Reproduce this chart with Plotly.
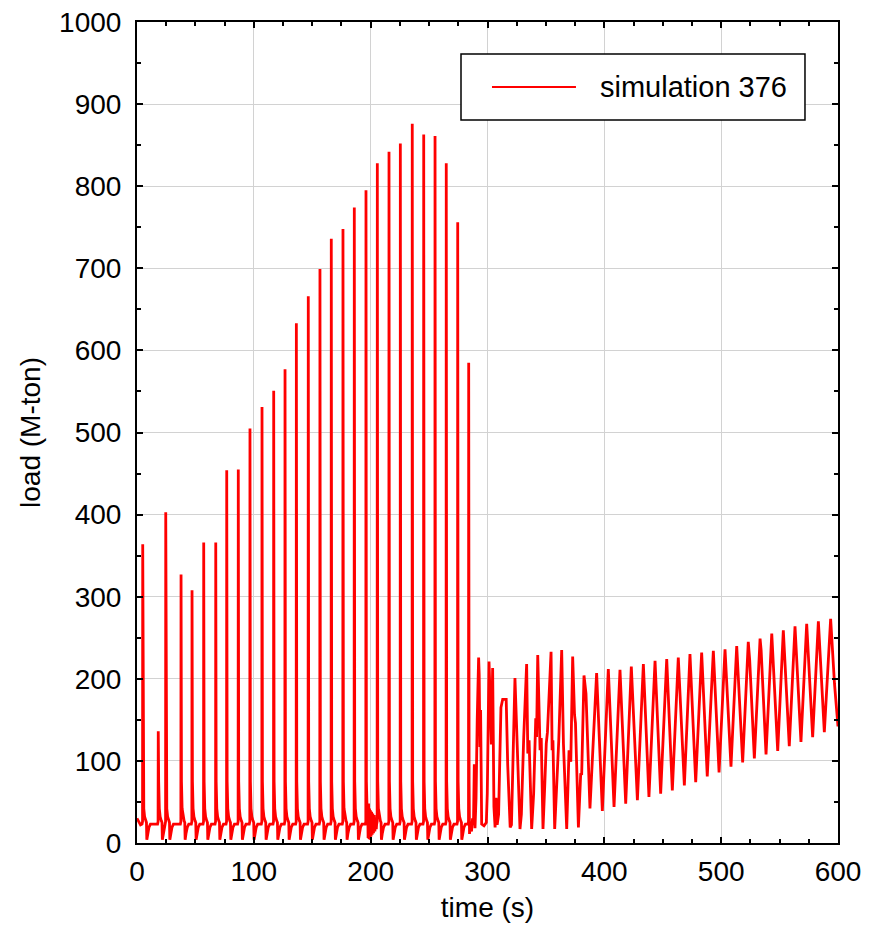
import plotly.graph_objects as go

# ---------------- data ----------------
# impact spikes (time s, peak load M-ton)
spike_times = [4.9, 18.2, 24.6, 37.7, 47.1, 57.1, 67.4, 76.8, 86.7, 96.7, 107.0, 117.0,
               126.7, 136.4, 146.6, 156.6, 166.3, 176.3, 186.0, 196.0, 205.7, 215.7,
               225.4, 235.6, 245.4, 255.1, 264.7, 274.5, 283.9]
spike_peaks = [364, 136, 403, 327, 308, 366, 366, 454, 455, 505, 531, 551,
               577, 633, 666, 699, 736, 748, 774, 795, 828, 842,
               852, 876, 863, 861, 828, 756, 585]

# low-level signal around each spike: offsets (s) after the peak and values
tail_dt = [0.35, 0.9, 1.6, 2.6, 3.2, 3.5, 4.3, 5.3, 6.6]
tail_val = [75, 42, 32, 27, 25, 4, 12, 19, 23]
pre_dt = [-0.6, -0.15]
pre_val = [23, 26]

# start of record
start_t = [0.0, 1.5, 3.0]
start_v = [30, 25, 22]

# noisy stretch near t = 200 s
noise_t = [197.4, 197.8, 198.2, 198.6, 199.0, 199.4, 199.8, 200.3, 200.8, 201.3,
           201.8, 202.4, 203.0, 203.6, 204.2, 204.8]
noise_v = [44, 6, 48, 5, 42, 9, 40, 8, 38, 10, 36, 12, 34, 14, 31, 17]

# oscillating phase after the spikes (vertices)
osc_t = [284.6, 285.5, 286.3, 287.2, 288.0, 288.7, 289.3, 290.2, 291.2, 292.4, 292.9,
         293.5, 294.1, 295.0, 297.0, 299.0, 299.8, 301.3, 302.6, 303.3, 304.4, 305.5,
         306.5, 307.3, 308.3, 309.5, 311.5, 313.0, 316.0, 317.3, 319.4, 320.5, 323.5,
         325.0, 326.0, 327.8, 329.0, 331.0, 333.5, 334.5, 335.6, 337.8, 339.5, 341.3,
         342.0, 343.0, 345.0, 346.0, 347.5, 349.0, 350.3, 351.3, 354.4, 355.3, 356.0,
         357.5, 359.0, 361.0, 363.5, 364.3, 365.0, 367.8, 369.8, 371.3, 372.9, 374.5,
         375.3, 377.8, 379.8, 380.6, 382.6, 384.3, 387.7, 393.4, 398.3, 403.4, 408.3,
         413.4, 418.3, 423.1, 428.3, 433.4, 438.2, 443.4, 448.2, 453.4, 458.2, 463.3,
         468.5, 473.3, 478.2, 483.3, 488.1, 493.3, 498.2, 503.3, 508.4, 513.3, 518.4,
         523.2, 524.4, 528.4, 533.3, 534.2, 538.4, 543.3, 544.5, 548.4, 553.2, 554.4,
         558.3, 563.2, 564.4, 568.3, 573.2, 574.4, 578.3, 583.2, 584.6, 588.3, 593.7,
         597.0, 600.0]
osc_v = [11, 26, 14, 30, 22, 96, 18, 55, 150, 226, 205,
         117, 162, 23, 21, 25, 60, 221, 160, 120, 213, 44,
         19, 55, 22, 35, 165, 175, 175, 95, 19, 22, 201,
         120, 95, 17, 35, 129, 218, 109, 125, 17, 60, 152,
         129, 229, 113, 128, 17, 70, 121, 135, 233, 113, 125,
         17, 65, 125, 235, 142, 121, 17, 113, 99, 227, 156,
         146, 19, 85, 83, 204, 182, 42, 207, 39, 212, 44,
         211, 48, 215, 52, 218, 56, 222, 60, 224, 64, 226,
         70, 230, 74, 232, 81, 234, 86, 236, 93, 240, 98,
         245, 223, 103, 249, 235, 108, 255, 219, 112, 259, 228,
         118, 264, 232, 123, 267, 234, 129, 270, 232, 135, 273,
         194, 142]

# ---------------- assemble the trace ----------------
pts = list(zip(start_t, start_v))
for i, (tp, pk) in enumerate(zip(spike_times, spike_peaks)):
    nxt = spike_times[i + 1] - 0.7 if i + 1 < len(spike_times) else osc_t[0] - 0.3
    for d, v in zip(pre_dt, pre_val):
        pts.append((tp + d, v))
    pts.append((tp, pk))
    for d, v in zip(tail_dt, tail_val):
        if tp + d < nxt:
            pts.append((tp + d, v))
pts += list(zip(noise_t, noise_v))
pts.sort(key=lambda p: p[0])
pts += list(zip(osc_t, osc_v))

t = [p[0] for p in pts]
load = [p[1] for p in pts]

FONT = "Liberation Sans, Arial, sans-serif"
FS = 28

fig = go.Figure()
fig.add_trace(go.Scatter(x=t, y=load, mode="lines", name="simulation 376",
                         line=dict(color="#ff0000", width=2.8), showlegend=False))

axis_common = dict(
    showline=True, linecolor="black", linewidth=2, mirror="ticks",
    ticks="inside", ticklen=6, tickwidth=1.5, tickcolor="black",
    showgrid=True, gridcolor="#d2d2d2", gridwidth=1,
    zeroline=False, automargin=False,
    tickfont=dict(family=FONT, size=FS, color="black"),
)

fig.update_xaxes(range=[0, 600], dtick=100, tick0=0,
                 minor=dict(dtick=25, ticks="inside", ticklen=4, tickcolor="black",
                            showgrid=False),
                 title=dict(text="time (s)", font=dict(family=FONT, size=FS, color="black"),
                            standoff=12),
                 ticklabelstandoff=2,
                 **axis_common)
fig.update_yaxes(range=[0, 1000], dtick=100, tick0=0,
                 minor=dict(dtick=50, ticks="inside", ticklen=4, tickcolor="black",
                            showgrid=False),
                 title=dict(text="load (M-ton)", font=dict(family=FONT, size=FS, color="black"),
                            standoff=10),
                 ticklabelstandoff=8,
                 **axis_common)

# legend box drawn in paper coordinates
fig.add_shape(type="rect", xref="paper", yref="paper",
              x0=0.4622, x1=0.9529, y0=0.8806, y1=0.9610,
              line=dict(color="black", width=1.5), fillcolor="white", layer="above")
fig.add_shape(type="line", xref="paper", yref="paper",
              x0=0.5064, x1=0.6262, y0=0.9208, y1=0.9208,
              line=dict(color="#ff0000", width=2), layer="above")
fig.add_annotation(xref="paper", yref="paper", x=0.6576, y=0.9208,
                   xanchor="left", yanchor="middle", showarrow=False,
                   text="simulation 376",
                   font=dict(family=FONT, size=29, color="black"))

fig.update_layout(
    width=886, height=925,
    margin=dict(l=137, r=48, t=22, b=82),
    paper_bgcolor="white", plot_bgcolor="white",
    font=dict(family=FONT, size=FS, color="black"),
)

fig.write_html("out.html")
